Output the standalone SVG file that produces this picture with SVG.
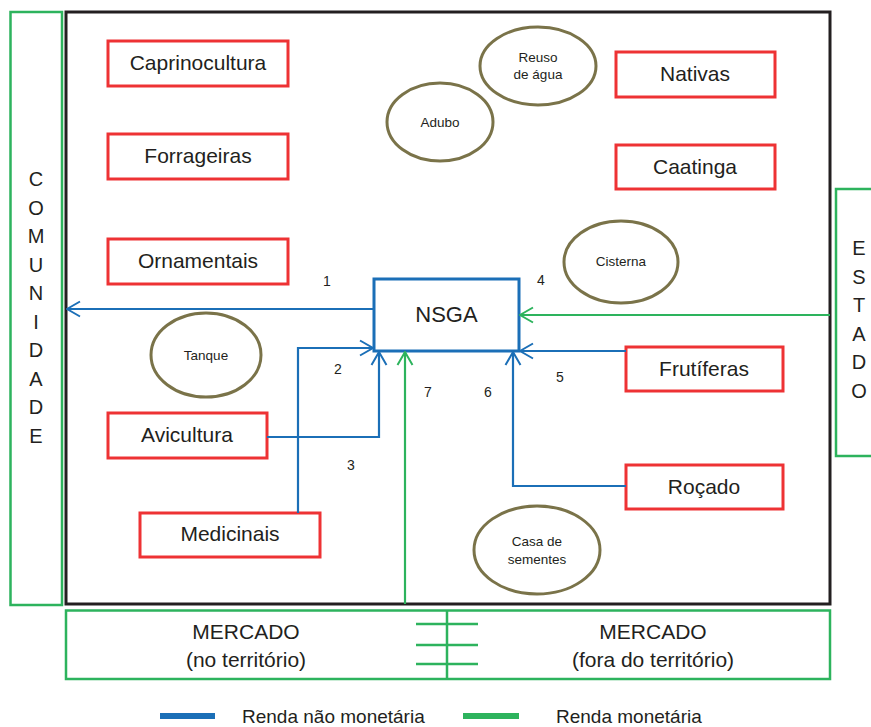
<svg xmlns="http://www.w3.org/2000/svg" width="871" height="727" viewBox="0 0 871 727">
  <style>
    text { font-family: "Liberation Sans", Arial, sans-serif; fill: #231f20; }
    .lbl { font-size: 21px; text-anchor: middle; }
    .small { font-size: 13.5px; text-anchor: middle; }
    .num { font-size: 14px; text-anchor: middle; }
    .vert { font-size: 20px; text-anchor: middle; }
    .box { fill: #fff; stroke: #ee3234; stroke-width: 3; }
    .oval { fill: #fff; stroke: #7a7349; stroke-width: 3; }
    .gbox { fill: #fff; stroke: #2db35d; stroke-width: 2.5; }
    .blue { fill: none; stroke: #1b6fb7; stroke-width: 2.2; }
    .green { fill: none; stroke: #2db35d; stroke-width: 2.2; }
  </style>
  <defs>
    <marker id="ah-blue" markerUnits="userSpaceOnUse" markerWidth="16" markerHeight="18" viewBox="0 0 15 18" refX="14" refY="9" orient="auto">
      <path d="M1,1.5 L14,9 L1,16.5" fill="none" stroke="#1b6fb7" stroke-width="2"/>
    </marker>
    <marker id="ah-green" markerUnits="userSpaceOnUse" markerWidth="16" markerHeight="18" viewBox="0 0 15 18" refX="14" refY="9" orient="auto">
      <path d="M1,1.5 L14,9 L1,16.5" fill="none" stroke="#2db35d" stroke-width="2"/>
    </marker>
    <filter id="shadow" x="-20%" y="-100%" width="140%" height="400%">
      <feGaussianBlur stdDeviation="1"/>
    </filter>
  </defs>

  <!-- outer frame -->
  <rect x="66" y="12" width="764" height="592" fill="#fff" stroke="#231f20" stroke-width="3"/>

  <!-- side and bottom panels -->
  <g id="comunidade">
    <rect class="gbox" x="10.5" y="12" width="51.5" height="593"/>
    <text class="vert" x="36" y="186">C</text>
    <text class="vert" x="36" y="214.5">O</text>
    <text class="vert" x="36" y="243">M</text>
    <text class="vert" x="36" y="271.5">U</text>
    <text class="vert" x="36" y="300">N</text>
    <text class="vert" x="36" y="328.5">I</text>
    <text class="vert" x="36" y="357">D</text>
    <text class="vert" x="36" y="385.5">A</text>
    <text class="vert" x="36" y="414">D</text>
    <text class="vert" x="36" y="442.5">E</text>
  </g>
  <g id="estado">
    <rect class="gbox" x="836" y="189" width="45" height="267"/>
    <text class="vert" x="859" y="255">E</text>
    <text class="vert" x="859" y="283.5">S</text>
    <text class="vert" x="859" y="312">T</text>
    <text class="vert" x="859" y="340.5">A</text>
    <text class="vert" x="859" y="369">D</text>
    <text class="vert" x="859" y="397.5">O</text>
  </g>
  <g id="mercado">
    <rect class="gbox" x="66" y="610.5" width="764" height="68.5"/>
    <path d="M447,611 V679 M416,624 H478 M416,645 H478 M416,664 H478" fill="none" stroke="#2db35d" stroke-width="2.5"/>
    <text class="lbl" x="246" y="639">MERCADO</text>
    <text class="lbl" x="246" y="667">(no território)</text>
    <text class="lbl" x="653" y="639">MERCADO</text>
    <text class="lbl" x="653" y="667">(fora do território)</text>
  </g>

  <!-- production boxes -->
  <g id="caprinocultura"><rect class="box" x="108" y="41" width="180" height="45"/><text class="lbl" x="198" y="70">Caprinocultura</text></g>
  <g id="forrageiras"><rect class="box" x="108" y="134" width="180" height="45"/><text class="lbl" x="198" y="163">Forrageiras</text></g>
  <g id="ornamentais"><rect class="box" x="108" y="239" width="180" height="45"/><text class="lbl" x="198" y="268">Ornamentais</text></g>
  <g id="avicultura"><rect class="box" x="108" y="413" width="159" height="45"/><text class="lbl" x="187" y="442">Avicultura</text></g>
  <g id="medicinais"><rect class="box" x="140" y="513" width="180" height="44"/><text class="lbl" x="230" y="541">Medicinais</text></g>
  <g id="nativas"><rect class="box" x="616" y="52" width="159" height="45"/><text class="lbl" x="695" y="81">Nativas</text></g>
  <g id="caatinga"><rect class="box" x="616" y="145" width="159" height="44"/><text class="lbl" x="695" y="174">Caatinga</text></g>
  <g id="frutiferas"><rect class="box" x="626" y="347" width="157" height="44"/><text class="lbl" x="704" y="376">Frutíferas</text></g>
  <g id="rocado"><rect class="box" x="626" y="465" width="157" height="44"/><text class="lbl" x="704" y="494">Roçado</text></g>

  <!-- resources -->
  <g id="reuso"><ellipse class="oval" cx="538" cy="66" rx="58" ry="39"/><text class="small" x="538" y="62">Reuso</text><text class="small" x="538" y="79">de água</text></g>
  <g id="adubo"><ellipse class="oval" cx="440" cy="122" rx="53" ry="39"/><text class="small" x="440" y="127">Adubo</text></g>
  <g id="cisterna"><ellipse class="oval" cx="621" cy="262" rx="57" ry="41"/><text class="small" x="621" y="266">Cisterna</text></g>
  <g id="tanque"><ellipse class="oval" cx="206" cy="355" rx="55" ry="42"/><text class="small" x="206" y="360">Tanque</text></g>
  <g id="casa-sementes"><ellipse class="oval" cx="537" cy="550" rx="63" ry="44"/><text class="small" x="537" y="546">Casa de</text><text class="small" x="537" y="564">sementes</text></g>

  <!-- central node -->
  <g id="nsga">
    <rect x="374" y="279" width="145" height="72" fill="#fff" stroke="#1b6fb7" stroke-width="3"/>
    <text x="446.5" y="322" font-size="22" text-anchor="middle">NSGA</text>
  </g>

  <!-- flows -->
  <g id="connectors">
    <path class="blue" d="M374,309 H67" marker-end="url(#ah-blue)"/>
    <path class="green" d="M830,315 H520" marker-end="url(#ah-green)"/>
    <path class="blue" d="M298,513 V348 H373" marker-end="url(#ah-blue)"/>
    <path class="blue" d="M267,437 H379 V352" marker-end="url(#ah-blue)"/>
    <path class="green" d="M405,604 V352" marker-end="url(#ah-green)"/>
    <path class="blue" d="M626,351 H520" marker-end="url(#ah-blue)"/>
    <path class="blue" d="M626,486 H513 V352" marker-end="url(#ah-blue)"/>
    <text class="num" x="327" y="286">1</text>
    <text class="num" x="338" y="374">2</text>
    <text class="num" x="351" y="470">3</text>
    <text class="num" x="541" y="285">4</text>
    <text class="num" x="560" y="382">5</text>
    <text class="num" x="488" y="397">6</text>
    <text class="num" x="428" y="397">7</text>
  </g>

  <!-- legend -->
  <g id="legend">
    <line x1="161" y1="719" x2="216" y2="719" stroke="#666" stroke-width="5" filter="url(#shadow)" opacity="0.7"/>
    <line x1="160" y1="716" x2="215" y2="716" stroke="#1b6fb7" stroke-width="6"/>
    <text x="242" y="723" font-size="19">Renda não monetária</text>
    <line x1="464" y1="719" x2="520" y2="719" stroke="#666" stroke-width="5" filter="url(#shadow)" opacity="0.7"/>
    <line x1="463" y1="716" x2="519" y2="716" stroke="#2db35d" stroke-width="6"/>
    <text x="556" y="723" font-size="19">Renda monetária</text>
  </g>
</svg>
